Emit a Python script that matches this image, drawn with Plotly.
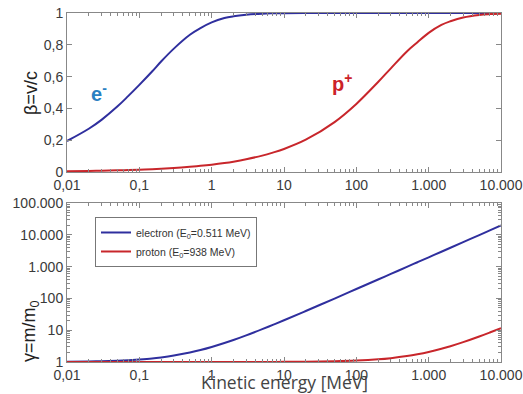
import plotly.graph_objects as go

# Kinetic energy [MeV]
T = [0.01, 0.02, 0.03, 0.05, 0.07, 0.1, 0.15, 0.2, 0.3, 0.5, 0.7, 1, 1.5, 2, 3, 5, 7,
     10, 20, 50, 100, 200, 300, 500, 700, 1000, 1500, 2000, 3000, 5000, 7000, 10000]

beta_electron = [0.195, 0.272, 0.328, 0.413, 0.477, 0.548, 0.632, 0.695, 0.776, 0.863,
                 0.905, 0.941, 0.968, 0.979, 0.989, 0.996, 0.998, 0.999, 1.0, 1.0, 1.0,
                 1.0, 1.0, 1.0, 1.0, 1.0, 1.0, 1.0, 1.0, 1.0, 1.0, 1.0]
beta_proton = [0.0046, 0.0065, 0.008, 0.0103, 0.0122, 0.0146, 0.0179, 0.0206, 0.0253,
               0.0326, 0.0386, 0.0461, 0.0565, 0.0652, 0.080, 0.103, 0.122, 0.145, 0.203,
               0.314, 0.428, 0.566, 0.652, 0.758, 0.816, 0.875, 0.925, 0.948, 0.972,
               0.988, 0.993, 0.996]
gamma_electron = [1.02, 1.04, 1.06, 1.10, 1.14, 1.20, 1.29, 1.39, 1.59, 1.98, 2.37, 2.96,
                  3.94, 4.91, 6.87, 10.8, 14.7, 20.6, 40.1, 98.8, 197, 392, 588, 980, 1371,
                  1958, 2936, 3915, 5872, 9786, 13700, 19570]
gamma_proton = [1.0, 1.0, 1.0, 1.0, 1.0, 1.0, 1.0, 1.0, 1.0, 1.001, 1.001, 1.001, 1.002,
                1.002, 1.003, 1.005, 1.007, 1.011, 1.021, 1.053, 1.107, 1.213, 1.32, 1.533,
                1.746, 2.066, 2.6, 3.13, 4.2, 6.33, 8.46, 11.66]

x_tickvals = [0.01, 0.1, 1, 10, 100, 1000, 10000]
x_ticktext = ["0,01", "0,1", "1", "10", "100", "1.000", "10.000"]
beta_tickvals = [0, 0.2, 0.4, 0.6, 0.8, 1]
beta_ticktext = ["0", "0,2", "0,4", "0,6", "0,8", "1"]
gamma_tickvals = [1, 10, 100, 1000, 10000, 100000]
gamma_ticktext = ["1", "10", "100", "1.000", "10.000", "100.000"]

minor_x = [m * 10 ** e for e in range(-2, 4) for m in range(2, 10)]
minor_g = [m * 10 ** e for e in range(0, 5) for m in range(2, 10)]

BLUE = "#2f2f9e"
RED = "#c8262b"
FONT = "Arial, Liberation Sans"

fig = go.Figure()
fig.add_trace(go.Scatter(x=T, y=beta_electron, mode="lines", line=dict(color=BLUE, width=2, shape="spline"),
                         showlegend=False, xaxis="x", yaxis="y"))
fig.add_trace(go.Scatter(x=T, y=beta_proton, mode="lines", line=dict(color=RED, width=2, shape="spline"),
                         showlegend=False, xaxis="x", yaxis="y"))
fig.add_trace(go.Scatter(x=T, y=gamma_electron, mode="lines", line=dict(color=BLUE, width=2, shape="spline"),
                         name="electron (E<sub>0</sub>=0.511 MeV)", xaxis="x2", yaxis="y2"))
fig.add_trace(go.Scatter(x=T, y=gamma_proton, mode="lines", line=dict(color=RED, width=2, shape="spline"),
                         name="proton (E<sub>0</sub>=938 MeV)", xaxis="x2", yaxis="y2"))

axis_common = dict(showline=True, linecolor="#888", linewidth=1, mirror="allticks",
                   ticks="inside", ticklen=5, tickcolor="#888", showgrid=False, zeroline=False,
                   automargin=False,
                   tickfont=dict(family=FONT, size=14, color="#3a3a3a"))

fig.update_layout(
    width=523, height=394,
    margin=dict(l=67, r=22, t=13, b=32),
    paper_bgcolor="white", plot_bgcolor="white",
    xaxis=dict(type="log", range=[-2, 4], domain=[0, 1], anchor="y",
               tickvals=x_tickvals, ticktext=x_ticktext,
               minor=dict(tickvals=minor_x, ticks="inside", ticklen=3, tickcolor="#888"),
               **axis_common),
    yaxis=dict(range=[0, 1], domain=[0.5444, 1], anchor="x",
               tickvals=beta_tickvals, ticktext=beta_ticktext,
               **axis_common),
    xaxis2=dict(type="log", range=[-2, 4], domain=[0, 1], anchor="y2",
                tickvals=x_tickvals, ticktext=x_ticktext,
                minor=dict(tickvals=minor_x, ticks="inside", ticklen=3, tickcolor="#888"),
                **axis_common),
    yaxis2=dict(type="log", range=[0, 5], domain=[0, 0.4556], anchor="x2",
                tickvals=gamma_tickvals, ticktext=gamma_ticktext,
                minor=dict(tickvals=minor_g, ticks="inside", ticklen=3, tickcolor="#888"),
                **axis_common),
    legend=dict(x=0.0645, y=0.4155, xanchor="left", yanchor="top",
                bordercolor="#777", borderwidth=1, bgcolor="white",
                font=dict(family=FONT, size=10.5, color="#333"),
                tracegroupgap=0, itemwidth=30),
    annotations=[
        dict(x=-1.56, y=0.503, xref="x", yref="y", text="<b>e<sup>-</sup></b>", showarrow=False,
             font=dict(family=FONT, size=20, color="#2a80c2")),
        dict(x=1.80, y=0.566, xref="x", yref="y", text="<b>p<sup>+</sup></b>", showarrow=False,
             font=dict(family=FONT, size=20, color="#cc2228")),
        dict(x=0.5, y=-0.058, xref="paper", yref="paper", yanchor="middle", text="Kinetic energy [MeV]",
             showarrow=False, font=dict(family="Open Sans", size=17.5, color="#444")),
        dict(x=-0.083, y=0.771, xref="paper", yref="paper", xanchor="center", yanchor="middle",
             text="β=v/c", textangle=-90, showarrow=False,
             font=dict(family=FONT, size=18, color="#222")),
        dict(x=-0.083, y=0.089, xref="paper", yref="paper", xanchor="center", yanchor="middle",
             text="γ=m/m<sub>0</sub>", textangle=-90, showarrow=False,
             font=dict(family=FONT, size=18, color="#222")),
    ],
)

fig.write_html("out.html")
